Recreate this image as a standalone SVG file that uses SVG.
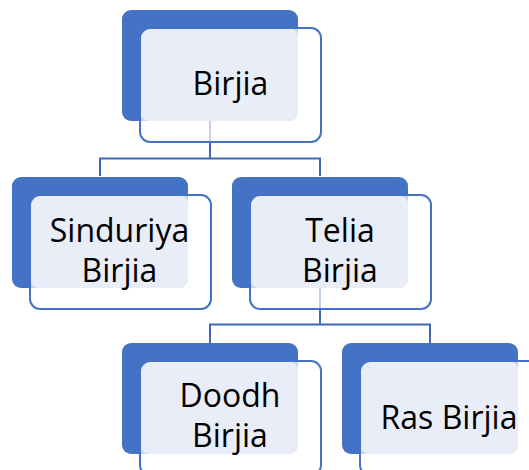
<svg xmlns="http://www.w3.org/2000/svg" width="529" height="470" viewBox="0 0 529 470">
<style>
.bg{fill:#4472C4}
.veil{fill:#ffffff;fill-opacity:0.7}
.lt{fill:#E9EDF7}
.ol{fill:none;stroke:#4472C4;stroke-width:2}
.t{font-family:"Open Sans","Noto Sans",sans-serif;font-size:32px;fill:#000;text-anchor:middle}
.c{fill:none;stroke:#3F68B8;stroke-width:2}
</style>
<rect width="529" height="470" fill="#fff"/>
<g id="connectors">
<path class="c" d="M210 121V158.5M100 176V158.5H320V176"/>
<path class="c" d="M320 288V324.5M210 343V324.5H430V343"/>
</g>
<g id="n-birjia">
<rect class="bg" x="122" y="10" width="176" height="111" rx="9"/>
<rect class="veil" x="140" y="28" width="181" height="114" rx="10"/>
<rect class="lt" x="140" y="28" width="158" height="93" rx="9"/>
<rect class="ol" x="140" y="28" width="181" height="114" rx="10"/>
<text class="t" x="230.5" y="95">Birjia</text>
</g>
<g id="n-sinduriya">
<rect class="bg" x="12" y="177" width="176" height="111" rx="9"/>
<rect class="veil" x="30" y="195" width="181" height="114" rx="10"/>
<rect class="lt" x="30" y="195" width="158" height="93" rx="9"/>
<rect class="ol" x="30" y="195" width="181" height="114" rx="10"/>
<text class="t" x="119.5" y="241.7">Sinduriya</text>
<text class="t" x="119.5" y="281.7">Birjia</text>
</g>
<g id="n-telia">
<rect class="bg" x="232" y="177" width="176" height="111" rx="9"/>
<rect class="veil" x="250" y="195" width="181" height="114" rx="10"/>
<rect class="lt" x="250" y="195" width="158" height="93" rx="9"/>
<rect class="ol" x="250" y="195" width="181" height="114" rx="10"/>
<text class="t" x="340" y="241.7">Telia</text>
<text class="t" x="340" y="281.7">Birjia</text>
</g>
<g id="n-doodh">
<rect class="bg" x="122" y="343" width="176" height="111" rx="9"/>
<rect class="veil" x="140" y="361" width="181" height="114" rx="10"/>
<rect class="lt" x="140" y="361" width="158" height="93" rx="9"/>
<rect class="ol" x="140" y="361" width="181" height="114" rx="10"/>
<text class="t" x="230" y="407">Doodh</text>
<text class="t" x="230" y="447">Birjia</text>
</g>
<g id="n-ras">
<rect class="bg" x="342" y="343" width="176" height="111" rx="9"/>
<rect class="veil" x="360" y="361" width="181" height="114" rx="10"/>
<rect class="lt" x="360" y="361" width="158" height="93" rx="9"/>
<rect class="ol" x="360" y="361" width="181" height="114" rx="10"/>
<text class="t" x="449" y="429.3">Ras Birjia</text>
</g>
</svg>
